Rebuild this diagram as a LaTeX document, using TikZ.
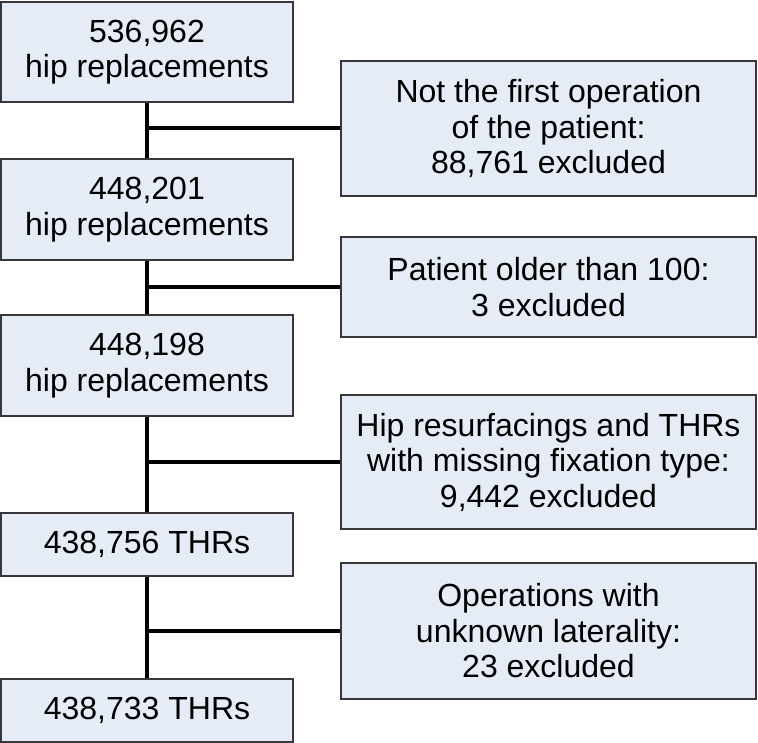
\documentclass[tikz,border=0pt]{standalone}
\usepackage{fontspec}
\setmainfont{Liberation Sans}
\definecolor{boxfill}{RGB}{230,236,246}
\definecolor{boxline}{RGB}{55,55,60}
\begin{document}
\begin{tikzpicture}[x=1pt,y=1pt,
  box/.style={draw=boxline,line width=1.5pt,fill=boxfill,align=center,inner sep=0pt,
    font=\fontsize{32}{35.5}\selectfont},
  lbox/.style={box,minimum width=292pt},
  rbox/.style={box,minimum width=415pt},
  conn/.style={line width=4pt,black}]
\useasboundingbox (0,0) rectangle (758,-743);
\node[lbox,minimum height=100pt] (b1) at (147,-52) {536,962\\hip replacements};
\node[lbox,minimum height=101pt] (b2) at (147,-209.5) {448,201\\hip replacements};
\node[lbox,minimum height=101pt] (b3) at (147,-365.5) {448,198\\hip replacements};
\node[lbox,minimum height=63pt] (b4) at (147,-544.5) {438,756 THRs};
\node[lbox,minimum height=63pt] (b5) at (147,-710.5) {438,733 THRs};
\node[rbox,minimum height=135pt] (r1) at (548.5,-128.5) {Not the first operation\\of the patient:\\88,761 excluded};
\node[rbox,minimum height=100pt] (r2) at (548.5,-287) {Patient older than 100:\\3 excluded};
\node[rbox,minimum height=134pt] (r3) at (548.5,-462) {Hip resurfacings and THRs\\with missing fixation type:\\9,442 excluded};
\node[rbox,minimum height=136pt] (r4) at (548.5,-631) {Operations with\\unknown laterality:\\23 excluded};
\draw[conn] (b1.south) -- (b2.north);
\draw[conn] (b2.south) -- (b3.north);
\draw[conn] (b3.south) -- (b4.north);
\draw[conn] (b4.south) -- (b5.north);
\draw[conn] (b1.south |- r1.west) -- (r1.west);
\draw[conn] (b2.south |- r2.west) -- (r2.west);
\draw[conn] (b3.south |- r3.west) -- (r3.west);
\draw[conn] (b4.south |- r4.west) -- (r4.west);
\end{tikzpicture}
\end{document}
